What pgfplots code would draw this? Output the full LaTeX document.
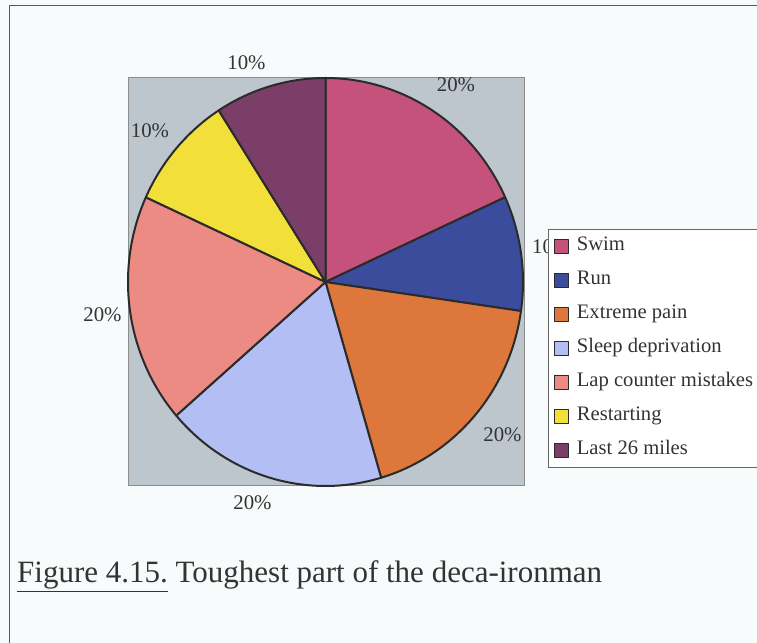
\documentclass[border=0pt]{standalone}
\usepackage{fontspec}
\setmainfont{Liberation Serif}
\usepackage{pgfplots}
\pgfplotsset{compat=1.18}

\definecolor{swim}{HTML}{C5527A}
\definecolor{run}{HTML}{3B4C9C}
\definecolor{pain}{HTML}{DE773B}
\definecolor{sleep}{HTML}{B3BEF5}
\definecolor{lap}{HTML}{EC8A84}
\definecolor{restart}{HTML}{F3DF3A}
\definecolor{last}{HTML}{7B3E68}
\definecolor{plotgray}{HTML}{BDC5CD}
\definecolor{pieedge}{HTML}{2B2B2B}
\definecolor{paper}{HTML}{F7FBFB}
\definecolor{ink}{HTML}{333333}

% pie centre and radii, in pixels of the page (y upwards), 1 px = 1 bp
\newcommand{\cx}{325.5}
\newcommand{\cy}{361}
\newcommand{\rx}{197.5}
\newcommand{\ry}{204}
% total of all slices (percent labels as printed)
\newcommand{\total}{110}

% #1 running sum before the slice, #2 value, #3 colour, #4 legend text
\newcommand{\slice}[4]{%
  \addplot[fill=#3, draw=pieedge, line width=2bp, line join=round,
    variable=\t, domain=-1:61, samples=63]
    ({(\t<-0.5 || \t>60.5) ? \cx : \cx+\rx*cos(90-360*(#1+#2*\t/60)/\total)},
     {(\t<-0.5 || \t>60.5) ? \cy : \cy+\ry*sin(90-360*(#1+#2*\t/60)/\total)});
  \addlegendentry{#4}%
}

\begin{document}
\begin{tikzpicture}
\path[use as bounding box, clip] (0,0) rectangle (757bp,643bp);
\fill[paper] (-5bp,-5bp) rectangle (765bp,650bp);
\begin{axis}[
    at={(0,0)}, anchor=south west,
    scale only axis, width=757bp, height=643bp,
    xmin=0, xmax=757, ymin=0, ymax=643,
    hide axis, clip=false,
    legend cell align=left,
    legend image code/.code={%
      \draw[#1, line width=1.4bp] (0bp,-7bp) rectangle (14bp,7bp);},
    legend style={at={(0.7239,0.6439)}, anchor=north west,
      draw=black!60, line width=1bp, fill=white, text=ink,
      font=\fontsize{20.6bp}{24bp}\selectfont,
      inner xsep=5bp, inner ysep=6bp,
      row sep=12bp, column sep=8bp,
      nodes={inner sep=0pt, text height=15bp, text depth=7bp}},
  ]
  % frame of the page and grey plot area
  \draw[black!65, line width=1bp] (axis cs:9,0) -- (axis cs:9,637) -- (axis cs:770,637);
  \filldraw[fill=plotgray, draw=black!45, line width=1bp]
    (axis cs:128,157) rectangle (axis cs:524,565);

  \slice{0}{20}{swim}{Swim}
  \slice{20}{10}{run}{Run}
  \slice{30}{20}{pain}{Extreme pain}
  \slice{50}{20}{sleep}{Sleep deprivation}
  \slice{70}{20}{lap}{Lap counter mistakes\hspace{10bp}}
  \slice{90}{10}{restart}{Restarting}
  \slice{100}{10}{last}{Last 26 miles}

  \begin{scope}[every node/.style={text=ink, font=\fontsize{20.8bp}{24bp}\selectfont, inner sep=0pt}]
    \node at (axis cs:456,558) {20\%};
    \node[anchor=west] at (axis cs:532,396) {10\%};
    \node at (axis cs:502.5,208) {20\%};
    \node at (axis cs:252.5,140) {20\%};
    \node at (axis cs:102.5,328) {20\%};
    \node at (axis cs:150,512) {10\%};
    \node at (axis cs:246.5,580) {10\%};
  \end{scope}

  \node[anchor=base west, inner sep=0pt, text=ink, font=\fontsize{31bp}{36bp}\selectfont]
    at (axis cs:17,60) {\underline{Figure 4.15.} Toughest part of the deca-ironman};
\end{axis}
\end{tikzpicture}
\end{document}
